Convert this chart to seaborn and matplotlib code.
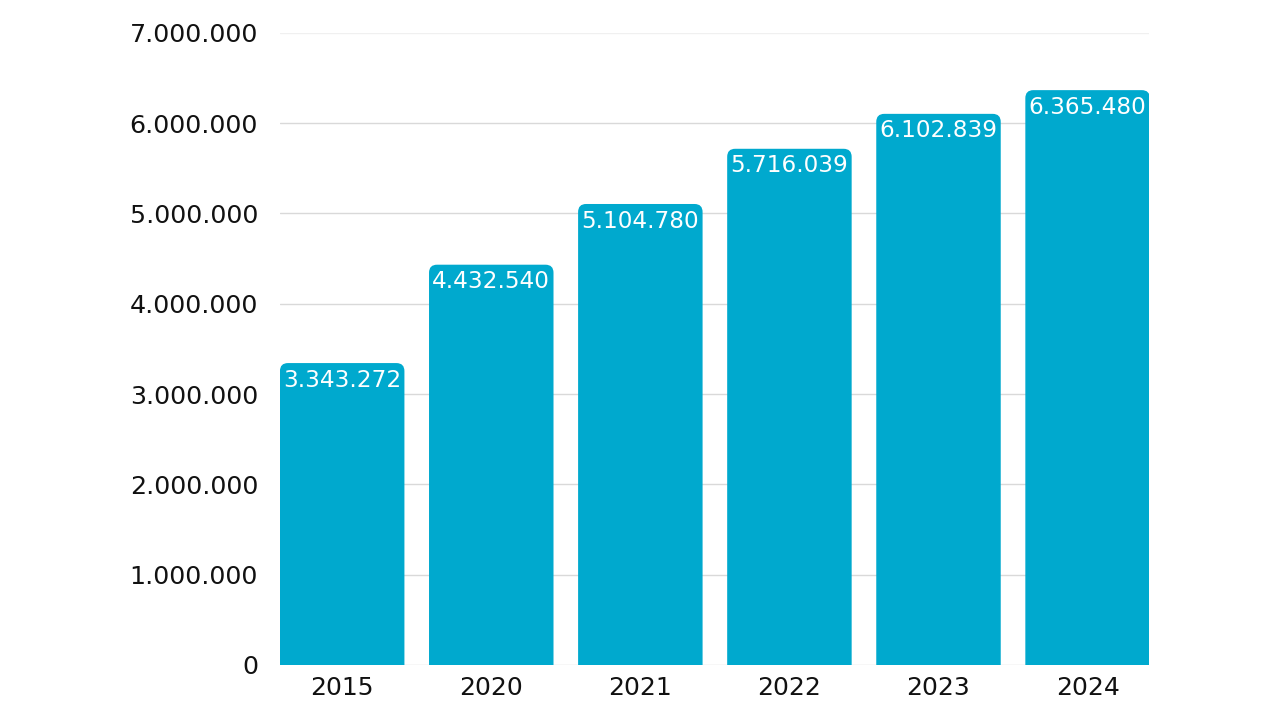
import pandas as pd
import matplotlib.pyplot as plt
import seaborn as sns
from matplotlib.patches import FancyBboxPatch
from matplotlib.ticker import FuncFormatter

# data
years = ["2015", "2020", "2021", "2022", "2023", "2024"]
values = [3343272, 4432540, 5104780, 5716039, 6102839, 6365480]

df = pd.DataFrame({"year": years, "value": values})

def dots(v):
    # thousands separated by dots
    return f"{int(round(v)):,}".replace(",", ".")

sns.set_theme(style="white")
plt.rcParams['font.family'] = ['DejaVu Sans']

fig = plt.figure(figsize=(12.8, 7.2), dpi=100)
ax = fig.add_axes([0.219, 0.0764, 0.679, 0.878])

bar_color = "#00a9ce"
sns.barplot(data=df, x="year", y="value", color=bar_color, width=0.835,
            saturation=1, ax=ax, zorder=2)

# swap plain bars for ones with rounded top corners
px_x = 1 / 149.0
px_y = 7000000 / 632.0
for p in list(ax.patches):
    x0, w, h = p.get_x(), p.get_width(), p.get_height()
    p.remove()
    rb = FancyBboxPatch((x0, -300000), w, h + 300000,
                        boxstyle=f"round,pad=0,rounding_size={8 * px_x}",
                        mutation_aspect=px_y / px_x,
                        facecolor=bar_color, edgecolor="none", zorder=2)
    ax.add_patch(rb)

for i, v in enumerate(values):
    ax.annotate(dots(v), (i, v), xytext=(0, -4), textcoords="offset points",
                ha="center", va="top", color="white", fontsize=16.7, zorder=3)

ax.set_ylim(0, 7000000)
ax.set_xlim(-0.415, 5.415)
ax.yaxis.set_major_formatter(FuncFormatter(lambda v, pos: dots(v)))
ax.set_yticks(range(0, 7000001, 1000000))
ax.grid(axis="y", color="#d9d9d9", linewidth=1, zorder=0)
ax.get_ygridlines()[-1].set_color("#f0f0f0")
ax.set_axisbelow(True)
sns.despine(ax=ax, left=True, bottom=True)
ax.tick_params(axis="y", labelsize=18.3, length=0, pad=16, colors="#111111")
ax.tick_params(axis="x", labelsize=18, length=0, pad=8, colors="#111111")
ax.set_xlabel("")
ax.set_ylabel("")

plt.savefig("out.png", dpi=100)
